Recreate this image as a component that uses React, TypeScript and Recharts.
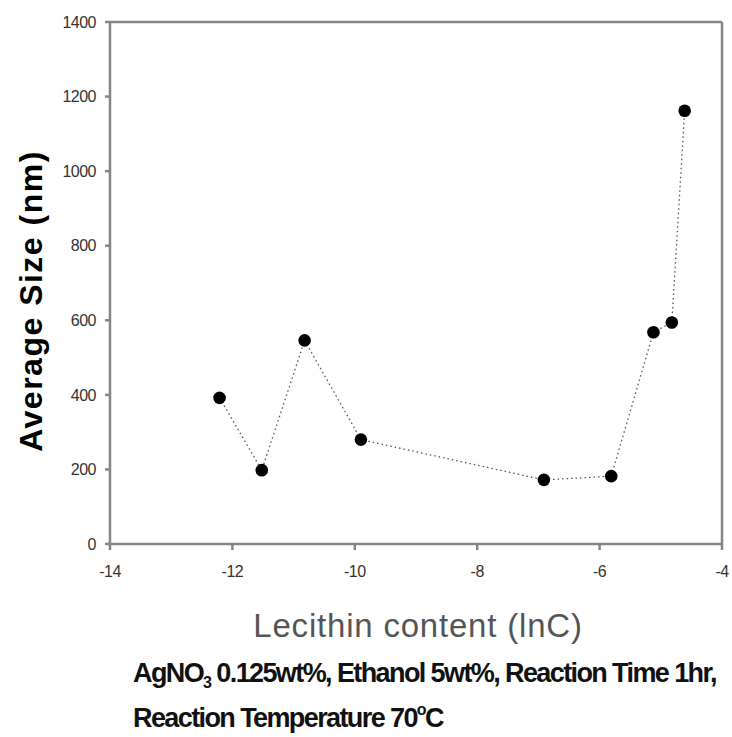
import React from 'react';
import { ScatterChart, Scatter, XAxis, YAxis, ReferenceLine } from 'recharts';

// ln of lecithin concentration vs. average particle size
const lnC = [-12.21, -11.52, -10.82, -9.9, -6.91, -5.81, -5.12, -4.82, -4.61];
const avgSize = [392, 198, 546, 280, 172, 182, 568, 594, 1162];

const xTicks = [-14, -12, -10, -8, -6, -4];
const yTicks = [0, 200, 400, 600, 800, 1000, 1200, 1400];

const data = lnC.map((x, i) => ({ x, y: avgSize[i] }));

const axisColor = '#858585';
const tickStyle = { fontSize: 16, fill: '#333', fontFamily: 'Arial, "Liberation Sans", sans-serif', letterSpacing: -0.5 };

// filled black marker, a bit bigger than the default symbol
const Dot = (props: any) => <circle cx={props.cx} cy={props.cy} r={6.3} fill="#000" />;

const App: React.FC = () => {
  return (
    <div style={{ position: 'absolute', left: 0, top: 0, width: 732, height: 737, background: '#fff' }}>
      <ScatterChart width={732} height={737} margin={{ top: 22, right: 10, bottom: 153, left: 0 }}>
        <XAxis
          type="number"
          dataKey="x"
          domain={[-14, -4]}
          ticks={xTicks}
          height={40}
          stroke={axisColor}
          strokeWidth={2.5}
          tickSize={6}
          tickMargin={16}
          tick={tickStyle}
        />
        <YAxis
          type="number"
          dataKey="y"
          domain={[0, 1400]}
          ticks={yTicks}
          width={110}
          stroke={axisColor}
          strokeWidth={2.5}
          tickSize={5}
          tickMargin={9}
          tick={tickStyle}
        />
        <ReferenceLine y={1400} stroke={axisColor} strokeWidth={2.5} />
        <ReferenceLine x={-4} stroke={axisColor} strokeWidth={2.5} />
        <Scatter
          data={data}
          fill="#000"
          shape={Dot}
          line={{ stroke: '#555', strokeWidth: 1.3, strokeDasharray: '1.5 3' }}
          isAnimationActive={false}
        />
      </ScatterChart>

      {/* axis titles and caption */}
      <svg
        width={732}
        height={737}
        style={{ position: 'absolute', left: 0, top: 0, pointerEvents: 'none' }}
        fontFamily='Arial, "Liberation Sans", sans-serif'
      >
        <text
          transform="translate(42,301) rotate(-90)"
          textAnchor="middle"
          fontSize={32}
          fontWeight="bold"
          letterSpacing={1.5}
          fill="#000"
        >
          Average Size (nm)
        </text>
        <text x={418} y={637} textAnchor="middle" fontSize={33} fill="#555" letterSpacing={0.8}>
          Lecithin content (lnC)
        </text>
        <text x={133} y={682} fontSize={27} fontWeight="bold" fill="#111" letterSpacing={-1.6}>
          AgNO
          <tspan fontSize={16} dy={6}>3</tspan>
          <tspan dy={-6}> 0.125wt%, Ethanol 5wt%, Reaction Time 1hr,</tspan>
        </text>
        <text x={133} y={727} fontSize={27} fontWeight="bold" fill="#111" letterSpacing={-1.6}>
          Reaction Temperature 70
          <tspan fontSize={16} dy={-12}>o</tspan>
          <tspan dy={12}>C</tspan>
        </text>
      </svg>
    </div>
  );
};

export default App;
